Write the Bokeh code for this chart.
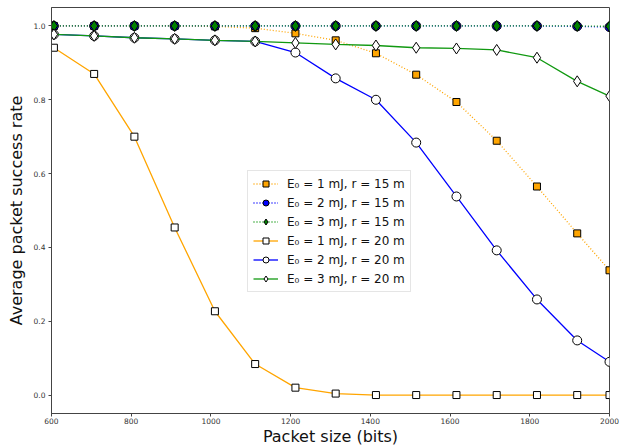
from bokeh.plotting import figure
from bokeh.models import Range1d, FixedTicker, Legend, LegendItem, NumeralTickFormatter
from bokeh.embed import file_html
from bokeh.resources import INLINE

# Packet sizes (bits) and average packet success rate for each energy / range setting
packet_bits = [606, 707, 808, 909, 1010, 1111, 1212, 1313, 1414, 1515, 1616, 1717, 1818, 1919, 2000]

psr_1mJ_15m = [1.0, 1.0, 1.0, 1.0, 0.999, 0.994, 0.980, 0.961, 0.926, 0.868, 0.794, 0.689, 0.565, 0.438, 0.338]
psr_2mJ_15m = [1.0, 1.0, 1.0, 1.0, 1.0, 1.0, 1.0, 1.0, 1.0, 1.0, 1.0, 1.0, 1.0, 0.999, 0.997]
psr_3mJ_15m = [1.0, 1.0, 1.0, 1.0, 1.0, 1.0, 1.0, 1.0, 1.0, 1.0, 1.0, 1.0, 1.0, 1.0, 0.999]

psr_1mJ_20m = [0.941, 0.870, 0.700, 0.454, 0.227, 0.084, 0.020, 0.004, 0.0, 0.0, 0.0, 0.0, 0.0, 0.0, 0.0]
psr_2mJ_20m = [0.977, 0.973, 0.968, 0.965, 0.961, 0.958, 0.928, 0.858, 0.800, 0.684, 0.538, 0.392, 0.259, 0.148, 0.090]
psr_3mJ_20m = [0.977, 0.973, 0.968, 0.965, 0.961, 0.958, 0.954, 0.950, 0.947, 0.941, 0.939, 0.935, 0.914, 0.850, 0.810]

x_ticks = [600, 800, 1000, 1200, 1400, 1600, 1800, 2000]
y_ticks = [0.0, 0.2, 0.4, 0.6, 0.8, 1.0]

labels = [
    "E\u2080 = 1 mJ, r = 15 m",
    "E\u2080 = 2 mJ, r = 15 m",
    "E\u2080 = 3 mJ, r = 15 m",
    "E\u2080 = 1 mJ, r = 20 m",
    "E\u2080 = 2 mJ, r = 20 m",
    "E\u2080 = 3 mJ, r = 20 m",
]

FONT = "DejaVu Sans"
ORANGE = "#FFA500"
BLUE = "#0000FF"
GREEN = "#008000"
GREEN_LINE = "#119911"

p = figure(
    width=630, height=448,
    output_backend="svg", toolbar_location=None,
    x_range=Range1d(600, 2000), y_range=Range1d(-0.05, 1.05),
    min_border_left=51, min_border_right=21, min_border_top=7, min_border_bottom=35,
)
p.grid.visible = False
p.outline_line_color = "#444444"
p.outline_line_width = 1

for ax in (p.xaxis[0], p.yaxis[0]):
    ax.axis_line_color = "#444444"
    ax.major_tick_line_color = "#444444"
    ax.major_tick_out = 3
    ax.major_tick_in = 0
    ax.minor_tick_line_color = None
    ax.major_label_text_font = FONT
    ax.major_label_text_font_size = "7.5px"
    ax.major_label_text_color = "#333333"
    ax.axis_label_text_font = FONT
    ax.axis_label_text_font_size = "16px"
    ax.axis_label_text_font_style = "normal"
    ax.axis_label_text_color = "#111111"

p.xaxis.ticker = FixedTicker(ticks=x_ticks)
p.yaxis.ticker = FixedTicker(ticks=y_ticks)
p.yaxis.formatter = NumeralTickFormatter(format="0.0")
p.xaxis.axis_label = "Packet size (bits)"
p.yaxis.axis_label = "Average packet success rate"
p.xaxis.major_label_standoff = 1
p.xaxis.axis_label_standoff = 0
p.yaxis.major_label_standoff = 3
p.yaxis.axis_label_standoff = 5

series = [
    (psr_1mJ_15m, ORANGE, "1 2", "square", ORANGE, 7),
    (psr_2mJ_15m, BLUE, "1 2", "circle", BLUE, 9),
    (psr_3mJ_15m, GREEN_LINE, "1 2", "diamond", GREEN, 11),
    (psr_1mJ_20m, ORANGE, "solid", "square", "white", 7),
    (psr_2mJ_20m, BLUE, "solid", "circle", "white", 9),
    (psr_3mJ_20m, GREEN_LINE, "solid", "diamond", "white", 11),
]

items = []
for (ys, color, dash, marker, fill, size), label in zip(series, labels):
    ln = p.line(packet_bits, ys, line_color=color, line_width=1.3, line_dash=dash)
    mk = p.scatter(packet_bits, ys, marker=marker, size=size,
                   fill_color=fill, line_color="black", line_width=1)
    items.append(LegendItem(label=label, renderers=[ln, mk]))

legend = Legend(
    items=items, location=(196, 121),
    label_text_font=FONT, label_text_font_size="12px", label_text_color="#111111",
    label_height=15, glyph_height=15, glyph_width=25, spacing=4, padding=5,
    label_standoff=9, margin=0,
    border_line_color="#cccccc", border_line_width=1,
    background_fill_color="white", background_fill_alpha=0.8,
)
p.add_layout(legend)

open("out.html", "w").write(file_html(p, INLINE))
